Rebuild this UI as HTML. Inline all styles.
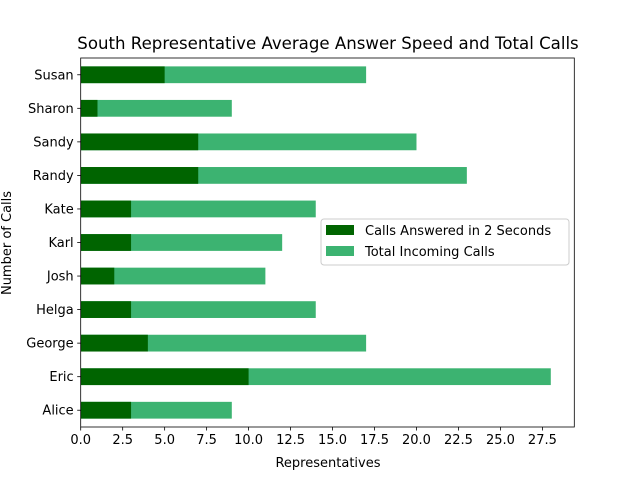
<!DOCTYPE html>
<html><head><meta charset="utf-8"><style>
body{margin:0;background:#fff;font-family:"Liberation Sans","DejaVu Sans",sans-serif}
text{font-family:"DejaVu Sans","Liberation Sans",sans-serif}
</style></head><body>
<svg id="chart" width="640" height="480" xmlns="http://www.w3.org/2000/svg">
<rect width="640" height="480" fill="#fff"/>
<text x="328" y="49" font-size="16.6" text-anchor="middle">South Representative Average Answer Speed and Total Calls</text>
<g id="plot"></g>
<text x="328" y="467" font-size="13" text-anchor="middle">Representatives</text>
<text x="0" y="0" font-size="13" text-anchor="middle" transform="translate(11,243) rotate(-90)">Number of Calls</text>
<g>
<rect x="321" y="219" width="248" height="46" fill="#fff" stroke="#ccc" rx="3"/>
<rect x="326" y="225" width="28" height="10" fill="#006400"/>
<text x="365" y="235" font-size="13">Calls Answered in 2 Seconds</text>
<rect x="326" y="246" width="28" height="10" fill="#3cb371"/>
<text x="365" y="256" font-size="13">Total Incoming Calls</text>
</g>
</svg>
<script>
const categories=["Alice","Eric","George","Helga","Josh","Karl","Kate","Randy","Sandy","Sharon","Susan"];
const answered=[3,10,4,3,2,3,3,7,7,1,5];
const totals=[9,28,17,14,11,12,14,23,20,9,17];
const xTicks=[0,2.5,5,7.5,10,12.5,15,17.5,20,22.5,25,27.5];
const L=80.7,R=574.3,T=58,B=427,xmax=29.4;
const NS="http://www.w3.org/2000/svg";
const g=document.getElementById('plot');
const xs=v=>L+v/xmax*(R-L);
const band=(B-T)/categories.length;
const ys=i=>B-band*(i+0.5);
function mk(t,a){const e=document.createElementNS(NS,t);for(const k in a)e.setAttribute(k,a[k]);g.appendChild(e);return e;}
categories.forEach((c,i)=>{
 const h=band*0.5;
 const r1=mk('rect',{x:xs(0),y:ys(i)-h/2,width:xs(totals[i])-xs(0),height:h,fill:'#3cb371'});
 
 
 const r2=mk('rect',{x:xs(0),y:ys(i)-h/2,width:xs(answered[i])-xs(0),height:h,fill:'#006400'});
 
 
 mk('line',{x1:L-3.5,x2:L,y1:ys(i),y2:ys(i),stroke:'#000','stroke-width':0.8});
 const t=mk('text',{x:L-7,y:ys(i)+4.5,'font-size':13,'text-anchor':'end'});t.textContent=c;
 
 
});
xTicks.forEach(v=>{
 mk('line',{x1:xs(v),x2:xs(v),y1:B,y2:B+3.5,stroke:'#000','stroke-width':0.8});
 const t=mk('text',{x:xs(v),y:B+17,'font-size':13,'text-anchor':'middle'});t.textContent=v.toFixed(1);
 
 
});
const f=mk('rect',{x:L,y:T,width:R-L,height:B-T,fill:'none',stroke:'#000','stroke-width':0.8});


</script>
</body></html>
